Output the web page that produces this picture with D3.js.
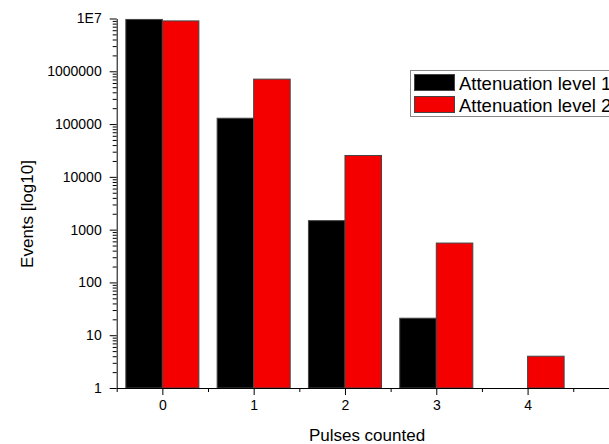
<!DOCTYPE html>
<html><head><meta charset="utf-8">
<script src="https://cdn.jsdelivr.net/npm/d3@7"></script>
<style>body{margin:0;background:#fff}svg{display:block}text{font-family:"Liberation Sans",Arial,sans-serif;fill:#000}</style>
</head><body>
<svg id="c" width="609" height="444"></svg>
<script>
const categories = [0, 1, 2, 3, 4];
const level1 = [9.6e6, 129000, 1480, 21, 0];
const level2 = [9.0e6, 710000, 25400, 557, 4];
const seriesNames = ["Attenuation level 1", "Attenuation level 2"];
const seriesColors = ["#000000", "#f50000"];
const yTickValues = [1, 10, 100, 1000, 10000, 100000, 1000000, 10000000];
const yTickLabels = ["1", "10", "100", "1000", "10000", "100000", "1000000", "1E7"];
const xTickLabels = ["0", "1", "2", "3", "4"];

const svg = d3.select("#c");
const x = d3.scaleLinear().domain([-0.5, 5.0]).range([116.7, 618.9]);
const y = d3.scaleLog().domain([1, 1e7]).range([388, 18.5]);
const barW = 0.4;

// bars
const series = [level1, level2];
series.forEach((vals, si) => {
  svg.append("g").selectAll("rect").data(categories.filter((c, i) => vals[i] > 0))
    .join("rect")
    .attr("x", d => si === 0 ? x(d - barW) : x(d))
    .attr("width", x(barW) - x(0))
    .attr("y", d => y(vals[categories.indexOf(d)]))
    .attr("height", d => y(1) - y(vals[categories.indexOf(d)]))
    .attr("fill", seriesColors[si])
    .attr("stroke", "#444")
    .attr("stroke-width", 1);
});

// y axis
const yMinor = [];
for (let e = 0; e < 7; e++) for (let k = 2; k <= 9; k++) yMinor.push(k * Math.pow(10, e));
const yAxisG = svg.append("g").attr("transform", "translate(116.7,0)");
yAxisG.append("g").call(d3.axisLeft(y).tickValues(yMinor).tickSize(4).tickFormat(""))
  .call(g => g.select(".domain").remove());
yAxisG.append("g").call(d3.axisLeft(y).tickValues(yTickValues).tickSize(7).tickPadding(8)
  .tickFormat((d, i) => yTickLabels[i]).tickSizeOuter(0))
  .call(g => g.selectAll("text").style("font-size", "14px"));
yAxisG.selectAll("line, path").attr("stroke", "#000");

// x axis
const xMinor = [-0.5, 0.5, 1.5, 2.5, 3.5, 4.5];
const xAxisG = svg.append("g").attr("transform", "translate(0,388)");
xAxisG.append("g").call(d3.axisBottom(x).tickValues(xMinor).tickSize(4).tickFormat(""))
  .call(g => g.select(".domain").remove());
xAxisG.append("g").call(d3.axisBottom(x).tickValues(categories).tickSize(7).tickPadding(5)
  .tickFormat((d, i) => xTickLabels[i]).tickSizeOuter(0))
  .call(g => g.selectAll("text").style("font-size", "14px"));
xAxisG.selectAll("line, path").attr("stroke", "#000");

// axis titles
svg.append("text").attr("x", 367).attr("y", 441).attr("text-anchor", "middle")
  .style("font-size", "17px").text("Pulses counted");
svg.append("text").attr("transform", "translate(33,214) rotate(-90)").attr("text-anchor", "middle")
  .style("font-size", "17px").text("Events [log10]");

// legend
const lg = svg.append("g");
lg.append("rect").attr("x", 410.5).attr("y", 70.5).attr("width", 230).attr("height", 46)
  .attr("fill", "#fff").attr("stroke", "#888");
seriesNames.forEach((n, i) => {
  lg.append("rect").attr("x", 414.5).attr("y", 74.5 + i * 22).attr("width", 40).attr("height", 16)
    .attr("fill", seriesColors[i]).attr("stroke", "#444");
  lg.append("text").attr("x", 459).attr("y", 89.5 + i * 22).style("font-size", "18.5px").text(n);
});
</script>
</body></html>
